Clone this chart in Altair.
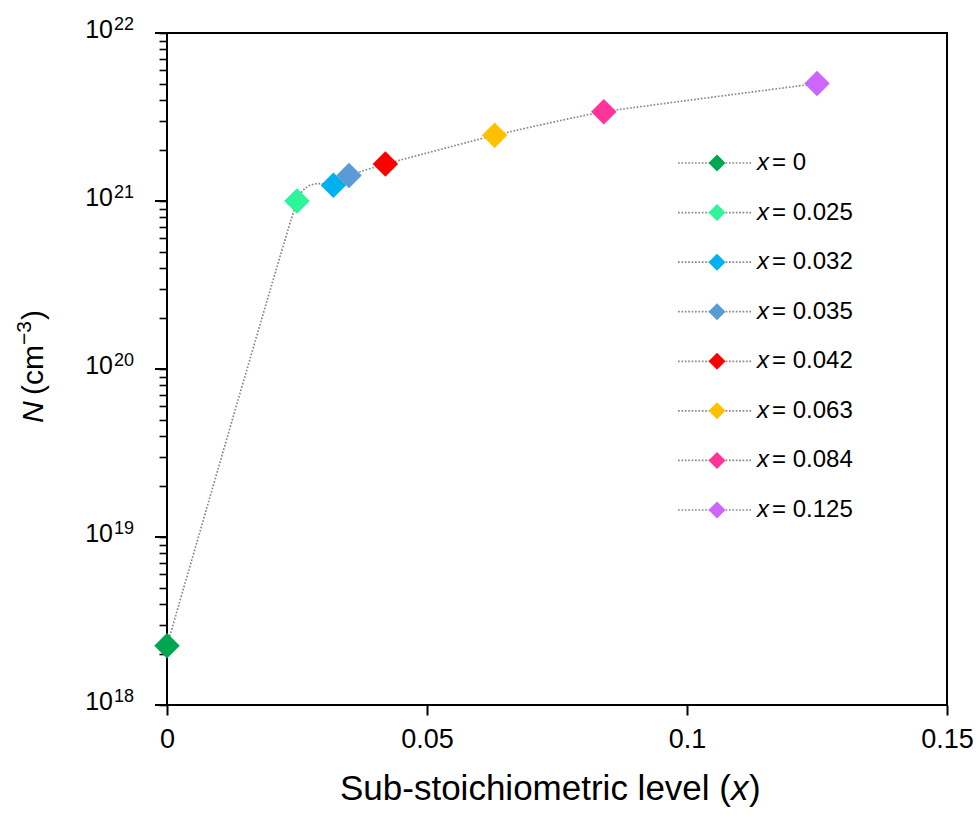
import altair as alt
import pandas as pd

# ---- data ----
x_vals = [0, 0.025, 0.032, 0.035, 0.042, 0.063, 0.084, 0.125]
n_vals = [2.25e18, 1.0e21, 1.24e21, 1.42e21, 1.66e21, 2.46e21, 3.4e21, 5.0e21]
colors = ["#00A651", "#2EF49A", "#00B0F0", "#5B9BD5", "#FF0000", "#FFC000", "#FF3399", "#CC66FF"]
legend_values = ["0", "0.025", "0.032", "0.035", "0.042", "0.063", "0.084", "0.125"]
x_ticks = [0, 0.05, 0.1, 0.15]
y_exponents = [18, 19, 20, 21, 22]

F = "Liberation Sans"
W, H = 780, 672

legend_labels = ["= " + v for v in legend_values]
df = pd.DataFrame({"x": x_vals, "N": n_vals, "color": colors, "label": legend_labels,
                   "idx": list(range(len(x_vals)))})
ymaj = pd.DataFrame({"v": [10.0 ** e for e in y_exponents], "e": [str(e) for e in y_exponents]})
minor_ticks = [m * 10.0 ** e for e in y_exponents[:-1] for m in range(1, 10)] + [10.0 ** y_exponents[-1]]

xscale = alt.Scale(domain=[0, 0.15], nice=False, zero=False)
yscale = alt.Scale(type="log", domain=[1e18, 1e22], nice=False)

xaxis = alt.Axis(values=x_ticks, format=".2~f", tickSize=10, tickWidth=2, tickColor="black",
                 domain=False, grid=False, labelFont=F, labelFontSize=27, labelFlush=False,
                 labelColor="black", labelPadding=11, title=None)
yaxis = alt.Axis(values=minor_ticks, tickSize=8, tickWidth=1.6, tickColor="black", labels=False,
                 domain=False, grid=False, title=None)

X = alt.X("x:Q", scale=xscale, axis=xaxis)
Y = alt.Y("N:Q", scale=yscale, axis=yaxis)
YV = alt.Y("v:Q", scale=yscale, axis=yaxis)

line = alt.Chart(df).mark_line(interpolate="cardinal", tension=0.65, stroke="#8a8a8a",
                               strokeWidth=1.7, strokeDash=[1.7, 1.7]).encode(
    x=X, y=Y, order="x:Q")
points = alt.Chart(df).mark_point(shape="diamond", filled=True, size=650, opacity=1).encode(
    x=X, y=Y, color=alt.Color("color:N", scale=None))
major = alt.Chart(ymaj).mark_rule(color="black", strokeWidth=2).encode(
    y=YV, x=alt.value(-12), x2=alt.value(0))
ten = alt.Chart(ymaj).mark_text(text="10", align="right", baseline="alphabetic", dy=5,
                                fontSize=25, font=F, color="black").encode(
    y=YV, x=alt.value(-54))
expo = alt.Chart(ymaj).mark_text(align="left", baseline="alphabetic", dy=-3,
                                 fontSize=18, font=F, color="black").encode(
    y=YV, x=alt.value(-53), text="e:N")

main = alt.layer(line, points, major, ten, expo)

# ---- legend ----
ly = alt.Y("idx:Q", scale=alt.Scale(domain=[0, len(x_vals) - 1], range=[130, 477], nice=False, zero=False),
           axis=None)
lrule = alt.Chart(df).mark_rule(stroke="#8a8a8a", strokeWidth=1.7, strokeDash=[1.7, 1.7]).encode(
    y=ly, x=alt.value(511), x2=alt.value(585))
lpts = alt.Chart(df).mark_point(shape="diamond", filled=True, size=290, opacity=1).encode(
    y=ly, x=alt.value(550), color=alt.Color("color:N", scale=None))
lx = alt.Chart(df).mark_text(text="x", align="left", baseline="middle", fontSize=24, font=F,
                             fontStyle="italic", color="black").encode(y=ly, x=alt.value(590))
ltxt = alt.Chart(df).mark_text(align="left", baseline="middle", fontSize=24, font=F,
                               color="black").encode(y=ly, x=alt.value(605), text="label:N")
legend = alt.layer(lrule, lpts, lx, ltxt)

# ---- axis titles (mixed italic) ----
one = pd.DataFrame({"a": [0]})


def txt(s, x, y, size, italic=False, angle=0):
    kw = dict(text=s, align="left", baseline="alphabetic", fontSize=size, font=F, color="black")
    if italic:
        kw["fontStyle"] = "italic"
    if angle:
        kw["angle"] = angle
    return alt.Chart(one).mark_text(**kw).encode(x=alt.value(x), y=alt.value(y))


titles = [
    txt("Sub-stoichiometric level (", 173, 767, 35),
    txt("x", 564, 767, 35, italic=True),
    txt(")", 582, 767, 35),
    txt("N", -124, 390, 30, italic=True, angle=270),
    txt("(cm", -124, 362, 30, angle=270),
    txt("\u22123", -136, 312, 21, angle=270),
    txt(")", -124, 287, 30, angle=270),
]

chart = alt.layer(main, legend, *titles).resolve_scale(y="independent").properties(
    width=W, height=H,
    autosize=alt.AutoSizeParams(type="none"),
    padding={"left": 167, "top": 33, "right": 31, "bottom": 113},
    background="white",
).configure_view(stroke="black", strokeWidth=2)

chart.save("out.html", embed_options={"renderer": "svg", "actions": False})
